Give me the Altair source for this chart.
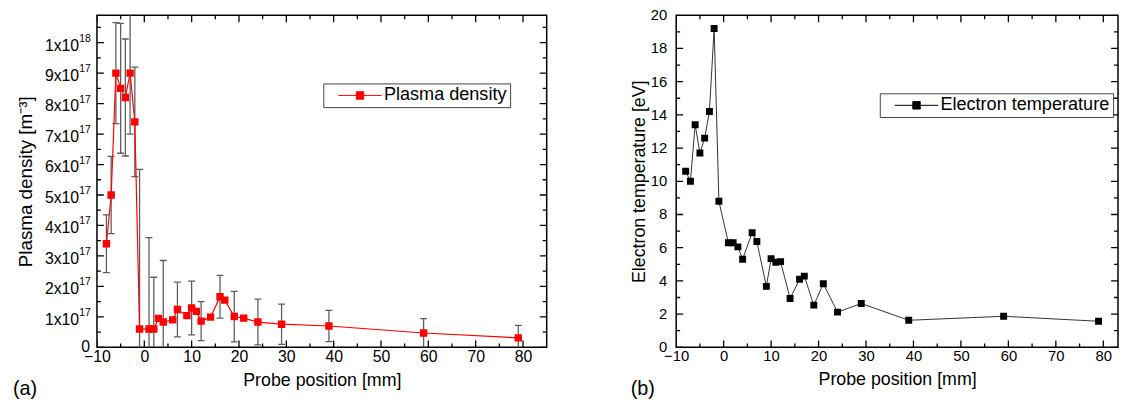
import altair as alt
import pandas as pd

# ---------------- data ----------------
position_mm = [-8, -7, -6, -5, -4, -3, -2, -1, 1, 2, 3, 4, 6, 7, 9, 10, 11, 12,
               14, 16, 17, 19, 21, 24, 29, 39, 59, 79]
density_1e17 = [3.4, 5.0, 9.0, 8.5, 8.2, 9.0, 7.4, 0.6, 0.6, 0.6, 0.95, 0.83,
                0.90, 1.24, 1.04, 1.29, 1.18, 0.86, 0.99, 1.66, 1.55, 1.01,
                0.96, 0.83, 0.76, 0.70, 0.47, 0.31]
density_err_1e17 = [0.95, 1.27, 1.66, 2.13, 1.92, 2.0, 1.8, 5.24, 3.0, 1.7, None,
                    2.02, None, 0.9, None, 0.88, None, 0.64, None, 0.70, None,
                    0.83, None, 0.75, 0.66, 0.51, 0.47, 0.41]
temperature_eV = [10.6, 10.0, 13.4, 11.7, 12.6, 14.2, 19.2, 8.8, 6.3, 6.3, 6.05,
                  5.3, 6.9, 6.37, 3.67, 5.34, 5.12, 5.16, 2.94, 4.1, 4.29, 2.54,
                  3.83, 2.12, 2.64, 1.63, 1.87, 1.57]

# tick values and tick label texts
x_major = [-10, 0, 10, 20, 30, 40, 50, 60, 70, 80]
x_minor = [-5, 5, 15, 25, 35, 45, 55, 65, 75]
dens_major = [0, 1, 2, 3, 4, 5, 6, 7, 8, 9, 10]
dens_minor = [0.5, 1.5, 2.5, 3.5, 4.5, 5.5, 6.5, 7.5, 8.5, 9.5, 10.5]
dens_label_values = [1, 2, 3, 4, 5, 6, 7, 8, 9, 10]
dens_label_mantissa = ["1x10", "2x10", "3x10", "4x10", "5x10", "6x10", "7x10",
                       "8x10", "9x10", "1x10"]
dens_label_exponent = ["17", "17", "17", "17", "17", "17", "17", "17", "17", "18"]
dens_zero_label = ["0"]
temp_major = [0, 2, 4, 6, 8, 10, 12, 14, 16, 18, 20]
temp_labels = ["0", "2", "4", "6", "8", "10", "12", "14", "16", "18", "20"]
temp_minor = [1, 3, 5, 7, 9, 11, 13, 15, 17, 19]

FONT = "Liberation Sans"
W1, W2, H = 455, 447, 336
XDOM_A = [-10, 85]
XDOM_B = [-10, 83.1]
YDOM_A = [0, 10.9]
YDOM_B = [0, 20]
RED = "#ff0000"
ERR = "#5e5e5e"
XTITLE = "Probe position [mm]"
YTITLE_A = "Plasma density [m⁻³]"
YTITLE_B = "Electron temperature [eV]"

dens_df = pd.DataFrame({"position": position_mm, "density": density_1e17,
                        "err": pd.Series(density_err_1e17, dtype="float"),
                        "series": "Plasma density"})
dens_df["lo"] = dens_df["density"] - dens_df["err"]
dens_df["hi"] = dens_df["density"] + dens_df["err"]
temp_df = pd.DataFrame({"position": position_mm, "temperature": temperature_eV,
                        "series": "Electron temperature"})

# legend glyph: line - square - line
LEG_SYMBOL = "M-2.75,0H-0.47M0.47,0H2.75M-0.47,-0.47H0.47V0.47H-0.47Z"
VTICK = "M0,-1V1"
HTICK = "M-1,0H1"


def frame_ticks(yfield, xs, ys, xdom, ydom, ymaj, ymin):
    """Inward ticks on all four sides: tick glyphs centred on the frame edge, clipped."""
    layers = []
    for vals, size in ((x_major, 196), (x_minor, 64)):
        for edge in (ydom[0], ydom[1]):
            d = pd.DataFrame({"position": vals, yfield: [edge] * len(vals)})
            layers.append(alt.Chart(d).mark_point(
                shape=VTICK, size=size, strokeWidth=1.3, color="black",
                filled=False, opacity=1, clip=True).encode(
                x=alt.X("position:Q", scale=xs, title=XTITLE),
                y=alt.Y(f"{yfield}:Q", scale=ys)))
    for vals, size in ((ymaj, 196), (ymin, 64)):
        for edge in (xdom[0], xdom[1]):
            d = pd.DataFrame({"position": [edge] * len(vals), yfield: vals})
            layers.append(alt.Chart(d).mark_point(
                shape=HTICK, size=size, strokeWidth=1.3, color="black",
                filled=False, opacity=1, clip=True).encode(
                x=alt.X("position:Q", scale=xs, title=XTITLE),
                y=alt.Y(f"{yfield}:Q", scale=ys)))
    return layers


def legend(x, y, color):
    return alt.Legend(
        title=None, orient="none", legendX=x, legendY=y,
        strokeColor="#444444", fillColor="white", padding=3, cornerRadius=0,
        labelFont=FONT, labelFontSize=18.3, labelColor="black", labelLimit=0,
        symbolType=LEG_SYMBOL, symbolSize=256, symbolStrokeWidth=1,
        symbolOffset=25, labelOffset=15,
        symbolStrokeColor=color, symbolFillColor=color,
    )


# ---------------- panel (a) ----------------
xs_a = alt.Scale(domain=XDOM_A, nice=False, zero=False)
ys_a = alt.Scale(domain=YDOM_A, nice=False, zero=False)
X_a = alt.X("position:Q", scale=xs_a, title=XTITLE,
            axis=alt.Axis(values=x_major, titlePadding=8, labelFontSize=16,
                          labelPadding=1, titleFontSize=18, labelOverlap=False))
Y_a = alt.Y("density:Q", scale=ys_a, title=YTITLE_A,
            axis=alt.Axis(values=dens_major, labels=False, titlePadding=62,
                          titleFontSize=19))

err_base = alt.Chart(dens_df).transform_filter("isValid(datum.err)")
err_rule = err_base.mark_rule(color=ERR, strokeWidth=1.3, clip=True).encode(
    x=X_a, y=alt.Y("lo:Q", scale=ys_a, title=YTITLE_A), y2="hi:Q")
cap_hi = err_base.mark_tick(orient="horizontal", size=7, thickness=1.3,
                            color=ERR, clip=True, opacity=1).encode(
    x=X_a, y=alt.Y("hi:Q", scale=ys_a, title=YTITLE_A))
cap_lo = err_base.mark_tick(orient="horizontal", size=7, thickness=1.3,
                            color=ERR, clip=True, opacity=1).encode(
    x=X_a, y=alt.Y("lo:Q", scale=ys_a, title=YTITLE_A))
line_a = alt.Chart(dens_df).mark_line(color=RED, strokeWidth=1.2, clip=True).encode(
    x=X_a, y=Y_a)
pts_a = alt.Chart(dens_df).mark_point(shape="square", filled=True, size=56,
                                      opacity=1, clip=True).encode(
    x=X_a, y=Y_a,
    color=alt.Color("series:N", scale=alt.Scale(domain=["Plasma density"], range=[RED]),
                    legend=legend(229, 69, RED)))

ylab_df = pd.DataFrame({"density": dens_label_values, "mant": dens_label_mantissa,
                        "expo": dens_label_exponent})
ylab_mant = alt.Chart(ylab_df).mark_text(
    align="right", baseline="middle", font=FONT, fontSize=16, dy=3, color="black").encode(
    y=alt.Y("density:Q", scale=ys_a, title=YTITLE_A), x=alt.value(-18), text="mant:N")
ylab_exp = alt.Chart(ylab_df).mark_text(
    align="left", baseline="middle", font=FONT, fontSize=10.5, dy=-4, color="black").encode(
    y=alt.Y("density:Q", scale=ys_a, title=YTITLE_A), x=alt.value(-18), text="expo:N")
ylab_zero = alt.Chart(pd.DataFrame({"density": [0], "lab": dens_zero_label})).mark_text(
    align="right", baseline="middle", font=FONT, fontSize=16, color="black").encode(
    y=alt.Y("density:Q", scale=ys_a, title=YTITLE_A), x=alt.value(-7), text="lab:N")

lab_a = alt.Chart(pd.DataFrame({"panel": ["(a)"]})).mark_text(
    align="left", baseline="alphabetic", font=FONT, fontSize=20, color="black").encode(
    text="panel:N", x=alt.value(-85), y=alt.value(H + 48))

panel_a = alt.layer(
    *frame_ticks("density", xs_a, ys_a, XDOM_A, YDOM_A, dens_major, dens_minor),
    err_rule, cap_hi, cap_lo, line_a, pts_a, ylab_mant, ylab_exp, ylab_zero, lab_a
).properties(width=W1, height=H)

# ---------------- panel (b) ----------------
xs_b = alt.Scale(domain=XDOM_B, nice=False, zero=False)
ys_b = alt.Scale(domain=YDOM_B, nice=False, zero=False)
X_b = alt.X("position:Q", scale=xs_b, title=XTITLE,
            axis=alt.Axis(values=x_major, titlePadding=8, labelFontSize=15,
                          labelPadding=1, titleFontSize=18, labelOverlap=False))
Y_b = alt.Y("temperature:Q", scale=ys_b, title=YTITLE_B,
            axis=alt.Axis(values=temp_major, labels=False, titlePadding=28,
                          titleFontSize=18))

line_b = alt.Chart(temp_df).mark_line(color="#333333", strokeWidth=1, clip=True).encode(
    x=X_b, y=Y_b)
pts_b = alt.Chart(temp_df).mark_point(shape="square", filled=True, size=49,
                                      opacity=1, clip=True).encode(
    x=X_b, y=Y_b,
    color=alt.Color("series:N", scale=alt.Scale(domain=["Electron temperature"],
                                                range=["#000000"]),
                    legend=legend(206, 79, "#000000")))
ylab_b = alt.Chart(pd.DataFrame({"temperature": temp_major, "lab": temp_labels})).mark_text(
    align="right", baseline="middle", font=FONT, fontSize=15, color="black").encode(
    y=alt.Y("temperature:Q", scale=ys_b, title=YTITLE_B), x=alt.value(-9), text="lab:N")
lab_b = alt.Chart(pd.DataFrame({"panel": ["(b)"]})).mark_text(
    align="left", baseline="alphabetic", font=FONT, fontSize=20, color="black").encode(
    text="panel:N", x=alt.value(-46), y=alt.value(H + 48))

panel_b = alt.layer(
    *frame_ticks("temperature", xs_b, ys_b, XDOM_B, YDOM_B, temp_major, temp_minor),
    line_b, pts_b, ylab_b, lab_b
).properties(width=W2, height=H)

chart = alt.hconcat(panel_a, panel_b, spacing=83).resolve_scale(color="independent").properties(
    padding={"left": 4, "top": -3, "right": 0, "bottom": 0}
).configure_view(stroke="black", strokeWidth=1.5).configure_axis(
    labelFont=FONT, titleFont=FONT, labelFontSize=16, titleFontSize=19,
    titleFontWeight="normal", labelColor="black", titleColor="black",
    grid=False, domain=False, ticks=False, tickSize=0, labelPadding=5,
    labelFlush=False, labelOverlap=False
)

chart.save("out.html", embed_options={"renderer": "svg", "actions": False})
